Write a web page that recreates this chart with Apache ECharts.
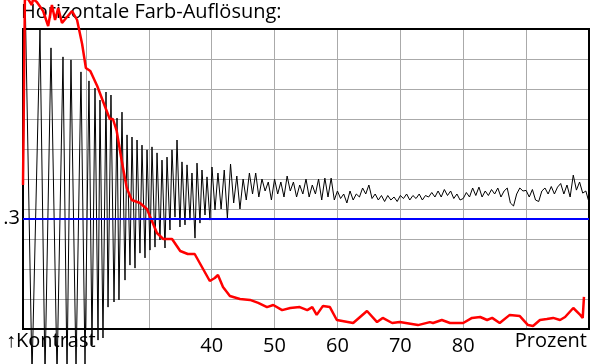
<!DOCTYPE html>
<html><head><meta charset="utf-8">
<script src="https://cdn.jsdelivr.net/npm/echarts@6/dist/echarts.min.js"></script>
<style>html,body{margin:0;padding:0;background:#fff}#c{width:600px;height:364px}</style>
</head><body><div id="c"></div>
<script>
// x: Prozent (10..100), y: grid units (0..10)
const xTickLabels = {40:'40',50:'50',60:'60',70:'70',80:'80'};
const refLevel = 3.677; // blue line, labelled ".3"
const refLabel = '.3';
const titleText = 'Horizontale Farb-Auflösung:';
const yLabelText = '↑Kontrast';
const xLabelText = 'Prozent';

const blackSignal = [
[10.0,4.0],[10.32,11.3],[11.43,-1.53],[12.70,9.97],[13.50,-1.53],[14.45,9.37],[15.41,-1.53],[16.36,9.07],[17.00,-1.53],[17.63,8.97],[18.43,-1.37],[19.22,8.57],[19.86,-1.2],[20.49,8.27],[20.97,-0.53],[21.45,8.03],[21.93,-0.37],[22.24,7.63],[22.72,-0.3],[23.20,7.9],[23.52,0.73],[23.99,7.8],[24.47,0.9],[24.95,7.03],[25.26,0.97],[25.74,7.23],[26.22,1.63],[26.54,6.47],[27.01,2.13],[27.33,6.4],[27.81,2.03],[28.13,6.3],[28.60,2.53],[28.92,6.13],[29.40,2.37],[29.72,5.97],[30.19,2.63],[30.51,6.07],[30.99,2.73],[31.31,5.87],[31.78,2.97],[32.10,5.63],[32.58,2.7],[32.90,5.73],[33.37,3.3],[33.69,5.97],[34.17,3.73],[34.49,6.3],[34.96,3.4],[35.28,5.57],[35.76,3.47],[36.08,5.47],[36.55,3.63],[36.87,5.2],[37.35,3.03],[37.67,5.53],[38.14,3.53],[38.46,5.3],[38.94,3.8],[39.26,5.07],[39.73,3.63],[40.05,5.4],[40.53,3.97],
[41.0,5.2],[41.5,4.0],[42.0,5.3],[42.5,3.7],[43.0,5.5],[43.5,4.2],[44.0,5.1],[44.5,4.0],[45.0,5.0],[45.5,4.3],[46.0,5.2],[46.5,4.5],[47.0,5.2],[47.5,4.4],[48.0,5.0],[48.5,4.6],[49.0,4.9],[49.5,4.3],[50.0,5.0],[50.5,4.5],[51.0,4.9],[51.5,4.4],[52.0,5.1],[52.5,4.6],[53.0,4.9],[53.5,4.4],[54.0,4.8],[54.5,4.5],[55.0,5.0],[55.5,4.4],[56.0,4.8],[56.5,4.5],[57.0,5.0],[57.5,4.3],[58.0,5.03],[58.5,4.4],[59.0,5.03],[59.5,4.3],[60.0,4.6],[60.5,4.35],[61.0,4.5],[61.5,4.2],[62.0,4.6],[62.5,4.3],[63.0,4.5],[63.5,4.4],[64.0,4.7],[64.5,4.5],[65.0,4.8],[65.5,4.35],[66.0,4.5],[66.5,4.3],[67.0,4.45],[67.5,4.25],[68.0,4.45],[68.5,4.3],[69.0,4.4],[69.5,4.25],[70.0,4.45],[70.5,4.35],[71.0,4.5],[71.5,4.3],[72.0,4.45],[72.5,4.35],[73.0,4.5],[73.5,4.3],[74.0,4.45],[74.5,4.4],[75.0,4.55],[75.5,4.4],[76.0,4.6],[76.5,4.4],[77.0,4.65],[77.5,4.45],[78.0,4.6],[78.5,4.35],[79.0,4.5],[79.5,4.3],[80.0,4.35],[80.5,4.55],[81.0,4.4],[81.5,4.7],[82.0,4.45],[82.5,4.73],[83.0,4.4],[83.5,4.6],[84.0,4.45],[84.5,4.65],[85.0,4.5],[85.5,4.7],[86.0,4.4],[86.5,4.6],[87.0,4.7],[87.5,4.2],[88.0,4.1],[88.5,4.5],[89.0,4.7],[89.5,4.6],[90.0,4.62],[90.5,4.4],[91.0,4.65],[91.5,4.3],[92.0,4.25],[92.5,4.6],[93.0,4.7],[93.5,4.5],[94.0,4.75],[94.5,4.5],[95.0,4.73],[95.5,4.85],[96.0,4.5],[96.5,4.8],[97.0,4.4],[97.5,5.13],[98.0,4.63],[98.5,4.9],[99.0,4.53],[99.5,4.6],[99.9,4.3]
];

const redSignal = [
[10.0,4.8],[10.3,11.0],[10.8,11.0],[11.4,10.8],[11.6,11.0],[12.2,10.9],[13.2,10.6],[14.0,10.1],[14.6,10.8],[15.1,10.3],[15.6,10.7],[16.2,10.2],[17.0,10.4],[17.8,10.6],[18.6,10.3],[19.4,9.5],[20.0,8.7],[20.7,8.6],[21.8,8.1],[22.7,7.6],[23.8,7.0],[24.3,7.0],[24.9,6.6],[25.7,5.6],[26.5,4.7],[27.3,4.3],[28.6,4.2],[29.7,4.0],[30.5,3.6],[31.3,3.2],[32.3,3.0],[33.7,3.0],[35.0,2.6],[36.2,2.5],[37.3,2.5],[38.1,2.2],[38.9,1.9],[39.7,1.6],[40.5,1.7],[41.0,1.8],[41.8,1.4],[42.9,1.1],[44.5,1.0],[46.1,0.97],[47.4,0.87],[48.8,0.73],[49.8,0.8],[51.2,0.63],[52.5,0.7],[54.0,0.73],[55.2,0.63],[56.0,0.73],[56.7,0.47],[57.7,0.77],[58.8,0.73],[59.9,0.3],[62.5,0.2],[64.7,0.6],[66.3,0.23],[67.2,0.37],[68.7,0.2],[69.9,0.23],[72.8,0.13],[74.7,0.23],[75.2,0.2],[76.6,0.3],[77.9,0.2],[80.0,0.2],[81.4,0.37],[82.7,0.4],[83.8,0.3],[84.6,0.37],[85.8,0.2],[87.4,0.47],[89.0,0.43],[90.3,0.13],[91.1,0.1],[92.2,0.3],[93.3,0.33],[94.3,0.37],[95.4,0.3],[96.2,0.4],[97.5,0.7],[98.6,0.47],[99.0,0.37],[99.2,1.07]
];

const chart = echarts.init(document.getElementById('c'), null, {renderer:'canvas'});
const FONT = 'Open Sans, Noto Sans, sans-serif';
chart.setOption({
  animation:false,
  backgroundColor:'#fff',
  grid:{left:23,top:29,right:11,bottom:35,show:true,borderColor:'#000',borderWidth:2,backgroundColor:'transparent',z:3},
  xAxis:{type:'value',min:10,max:100,interval:10,
    axisLine:{show:false},axisTick:{show:false},
    splitLine:{show:true,lineStyle:{color:'#aaa',width:1}},
    axisLabel:{margin:7,fontSize:20,color:'#000',fontFamily:FONT,formatter:v=>xTickLabels[v]||''}},
  yAxis:{type:'value',min:0,max:10,interval:1,
    axisLine:{show:false},axisTick:{show:false},axisLabel:{show:false},
    splitLine:{show:true,lineStyle:{color:'#aaa',width:1}}},
  graphic:[
    {type:'text',left:21,top:2,z:0,style:{text:titleText,fontSize:20,fontFamily:FONT,fill:'#000'}},
    {type:'text',left:6,top:331,z:0,style:{text:yLabelText,fontSize:20,fontFamily:FONT,fill:'#000'}},
    {type:'text',right:13,top:331,z:0,style:{text:xLabelText,fontSize:20,fontFamily:FONT,fill:'#000'}}
  ],
  series:[
    {type:'line',data:blackSignal,showSymbol:false,clip:false,z:2,
      lineStyle:{color:'#000',width:1}},
    {type:'line',data:[],showSymbol:false,z:3,
      markLine:{silent:true,symbol:'none',lineStyle:{color:'#0000ff',width:2,type:'solid'},
        label:{show:true,position:'start',formatter:refLabel,fontSize:20,fontFamily:FONT,color:'#000',distance:3},
        data:[{yAxis:refLevel}]}},
    {type:'line',data:redSignal,showSymbol:false,clip:false,z:4,
      lineStyle:{color:'#ff0000',width:2.5}}
  ]
});
</script></body></html>
